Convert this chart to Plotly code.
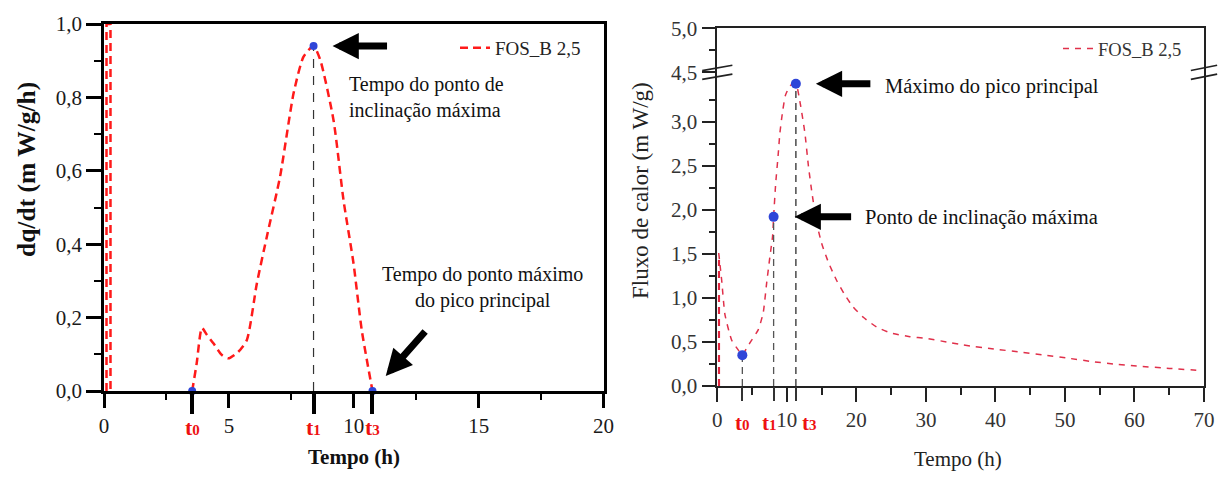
import plotly.graph_objects as go

SERIF = "Liberation Serif, Times New Roman, serif"

# ---------------- left panel: dq/dt ----------------
spike_t = [0.1, 0.1, 0.26, 0.26]
spike_dq = [0.0, 1.0, 1.0, 0.0]
deriv_t = [3.53, 3.71, 3.92, 4.12, 4.38, 4.72, 4.98, 5.38, 5.72, 6.12, 6.55,
           7.05, 7.59, 7.99, 8.39, 8.66, 9.19, 9.59, 9.99, 10.32, 10.75]
deriv_dq = [0.0, 0.075, 0.172, 0.153, 0.13, 0.098, 0.089, 0.107, 0.139, 0.293, 0.43,
            0.584, 0.811, 0.911, 0.94, 0.902, 0.738, 0.52, 0.348, 0.166, 0.0]
left_marks_t = [3.53, 8.39, 10.75]          # t0, t1, t3
left_marks_dq = [0.0, 0.94, 0.0]
left_xticks = [0, 5, 10, 15, 20]
left_xminor = [2.5, 7.5, 12.5, 17.5]
left_yticks = [0.0, 0.2, 0.4, 0.6, 0.8, 1.0]
left_yminor = [0.1, 0.3, 0.5, 0.7, 0.9]

# ---------------- right panel: heat flow ----------------
flux_spike_t = [0.24, 0.24]
flux_spike_q = [0.0, 1.43]
flux_t = [0.2, 0.63, 1.1, 2.07, 3.0, 3.6, 4.3, 4.94, 5.9, 6.6, 7.1, 7.57, 7.95, 8.1,
          8.4, 8.75, 9.0, 9.4, 9.8, 10.5, 11.3, 11.9, 12.6, 13.1, 13.6, 14.3, 15.0,
          16.0, 17.15, 18.3, 19.5, 21.0, 22.9, 25.0, 27.7, 30.0, 33.0, 35.35, 40.15,
          43.5, 46.8, 50.5, 54.0, 57.0, 60.3, 65.0, 69.8]
flux_q = [1.51, 1.2, 0.81, 0.52, 0.41, 0.35, 0.44, 0.52, 0.64, 0.83, 1.17, 1.47, 1.70, 1.92,
          2.3, 2.62, 2.87, 3.12, 3.3, 3.41, 3.43, 3.22, 2.87, 2.5, 2.2, 1.85, 1.62,
          1.4, 1.2, 1.04, 0.90, 0.78, 0.67, 0.60, 0.56, 0.54, 0.50, 0.466, 0.417,
          0.385, 0.352, 0.315, 0.276, 0.25, 0.227, 0.2, 0.174]
right_marks_t = [3.6, 8.1, 11.3]            # t0, t1, t3
right_marks_q = [0.35, 1.92, 3.43]
right_xticks = [0, 10, 20, 30, 40, 50, 60, 70]
right_xminor = [5, 15, 25, 35, 45, 55, 65]
right_yticks = [0.0, 0.5, 1.0, 1.5, 2.0, 2.5, 3.0, 4.5, 5.0]
right_yminor = [0.25, 0.75, 1.25, 1.75, 2.25, 2.75, 3.25, 4.75]
BREAK_FROM, BREAK_GAP = 3.5, 0.94          # axis break: values above 3.5 are shifted down


def on_broken_axis(v):
    return v - BREAK_GAP if v > BREAK_FROM else v


def comma(v, nd=1):
    return f"{v:.{nd}f}".replace(".", ",")


t_names = ["0", "1", "3"]


def t_label(d, size):
    return f"<b>t<span style='font-size:{size}px'>{d}</span></b>"


fig = go.Figure()

# left traces
fig.add_trace(go.Scatter(x=spike_t, y=spike_dq, mode="lines", showlegend=False,
                         line=dict(color="#ff1a1a", width=2.5, dash="8px,5px")))
fig.add_trace(go.Scatter(x=deriv_t, y=deriv_dq, mode="lines", name="FOS_B 2,5",
                         legend="legend",
                         line=dict(color="#ff1a1a", width=2.5, dash="8px,5px",
                                   shape="spline", smoothing=0.6)))
fig.add_trace(go.Scatter(x=[left_marks_t[1]] * 2, y=[0, left_marks_dq[1]], mode="lines",
                         showlegend=False,
                         line=dict(color="#333333", width=1.2, dash="9px,8px")))
fig.add_trace(go.Scatter(x=left_marks_t, y=left_marks_dq, mode="markers", showlegend=False,
                         xaxis="x3", yaxis="y", cliponaxis=False,
                         marker=dict(color="#2f45d8", size=8)))

# right traces
fig.add_trace(go.Scatter(x=flux_spike_t, y=flux_spike_q, mode="lines", showlegend=False,
                         xaxis="x2", yaxis="y2",
                         line=dict(color="#e0263f", width=2.2, dash="7px,5px")))
fig.add_trace(go.Scatter(x=flux_t, y=flux_q, mode="lines", name="FOS_B 2,5",
                         legend="legend2", xaxis="x2", yaxis="y2",
                         line=dict(color="#e0304a", width=1.5, dash="6px,6px",
                                   shape="spline", smoothing=0.5)))
for i, (tx, qy) in enumerate(zip(right_marks_t, right_marks_q)):
    fig.add_trace(go.Scatter(x=[tx, tx], y=[0, qy], mode="lines", showlegend=False,
                             xaxis="x2", yaxis="y2",
                             line=dict(color="#555555", width=1.6 if i == 2 else 1.3,
                                       dash="7px,5px")))
fig.add_trace(go.Scatter(x=right_marks_t, y=right_marks_q, mode="markers", showlegend=False,
                         xaxis="x4", yaxis="y2", cliponaxis=False,
                         marker=dict(color="#2f45d8", size=10)))

L_X = [104 / 1224, 603.5 / 1224]
L_Y = [86 / 477, 453 / 477]
R_X = [717.3 / 1224, 1204 / 1224]
R_Y = [91 / 477, 448.7 / 477]

lfont = dict(family=SERIF, size=21, color="#1a1a1a")
rfont = dict(family=SERIF, size=21, color="#333333")

common = dict(showgrid=False, zeroline=False, ticks="outside", tickmode="array")

fig.update_layout(
    width=1224, height=477, autosize=False,
    margin=dict(l=0, r=0, t=0, b=0, pad=0, autoexpand=False),
    paper_bgcolor="white", plot_bgcolor="white",
    font=dict(family=SERIF),
    xaxis=dict(domain=L_X, anchor="y", range=[0, 20], tickvals=left_xticks,
               ticktext=[str(v) for v in left_xticks], ticklen=14, tickwidth=2.5,
               tickcolor="black", showline=True, linewidth=2.5, linecolor="black",
               mirror=True, tickfont=lfont,
               minor=dict(tickmode="array", tickvals=left_xminor, ticks="outside",
                          ticklen=6, tickwidth=2, tickcolor="black"), **common),
    yaxis=dict(domain=L_Y, anchor="x", range=[0, 1], tickvals=left_yticks,
               ticktext=[comma(v) for v in left_yticks], ticklen=15, tickwidth=2.5,
               tickcolor="black", showline=True, linewidth=2.5, linecolor="black",
               mirror=True, tickfont=lfont,
               minor=dict(tickmode="array", tickvals=left_yminor, ticks="outside",
                          ticklen=7, tickwidth=2, tickcolor="black"), **common),
    xaxis3=dict(domain=L_X, overlaying="x", anchor="y", range=[0, 20],
                tickvals=left_marks_t, ticklen=22, tickwidth=3.5, tickcolor="black",
                showticklabels=False, showline=False, **common),
    xaxis2=dict(domain=R_X, anchor="y2", range=[0, 70], tickvals=right_xticks,
                ticktext=[str(v) for v in right_xticks], ticklen=14, tickwidth=1.6,
                tickcolor="#222", showline=True, linewidth=1.6, linecolor="#222",
                mirror=True, tickfont=rfont,
                minor=dict(tickmode="array", tickvals=right_xminor, ticks="outside",
                           ticklen=7, tickwidth=1.6, tickcolor="#222"), **common),
    yaxis2=dict(domain=R_Y, anchor="x2", range=[0, on_broken_axis(5.0)],
                tickvals=[on_broken_axis(v) for v in right_yticks],
                ticktext=[comma(v) for v in right_yticks], ticklen=14, tickwidth=1.6,
                tickcolor="#222", showline=True, linewidth=1.6, linecolor="#222",
                mirror=True, tickfont=rfont,
                minor=dict(tickmode="array",
                           tickvals=[on_broken_axis(v) for v in right_yminor],
                           ticks="outside", ticklen=7, tickwidth=1.6, tickcolor="#222"),
                **common),
    xaxis4=dict(domain=R_X, overlaying="x2", anchor="y2", range=[0, 70],
                tickvals=right_marks_t, ticklen=14, tickwidth=1.8, tickcolor="#333",
                showticklabels=False, showline=False, **common),
    legend=dict(x=455 / 1224, y=1 - 48 / 477, xanchor="left", yanchor="middle",
                bgcolor="rgba(0,0,0,0)", font=dict(family=SERIF, size=19, color="#222")),
    legend2=dict(x=1058 / 1224, y=1 - 49 / 477, xanchor="left", yanchor="middle",
                 bgcolor="rgba(0,0,0,0)", font=dict(family=SERIF, size=18.5, color="#333")),
)

ann = []


def paper_text(text, px, py, size, color, angle=0, xanchor="center", align="center"):
    return dict(text=text, x=px / 1224, y=1 - py / 477, xref="paper", yref="paper",
                xanchor=xanchor, yanchor="middle", align=align, showarrow=False,
                textangle=angle, font=dict(family=SERIF, size=size, color=color))


# axis titles
ann.append(paper_text("<b>Tempo (h)</b>", 354, 457, 21, "#111"))
ann.append(paper_text("<b>dq/dt (m W/g/h)</b>", 26, 170, 25.5, "#111", angle=-90))
ann.append(paper_text("Tempo (h)", 958, 459, 21, "#222"))
ann.append(paper_text("Fluxo de calor (m W/g)", 640, 191, 23, "#222", angle=-90))

# t labels under the axes
for tx, d in zip(left_marks_t, t_names):
    ann.append(dict(text=t_label(d, 15), x=tx, y=0, xref="x", yref="y", yanchor="top",
                    xanchor="center", yshift=-22, showarrow=False,
                    font=dict(family=SERIF, size=22, color="#ee1111")))
for tx, d, dx in zip(right_marks_t, t_names, [0, -4, 14]):
    ann.append(dict(text=t_label(d, 15), x=tx, y=0, xref="x2", yref="y2", yanchor="top",
                    xanchor="center", yshift=-23, xshift=dx, showarrow=False,
                    font=dict(family=SERIF, size=21, color="#ee1111")))

# descriptive texts
ann.append(paper_text("Tempo do ponto de<br>inclinação máxima", 347, 97.5, 20, "#111",
                      xanchor="left", align="left"))
ann.append(paper_text("Tempo do ponto máximo<br>do pico principal", 482.5, 287.5, 20, "#111"))
ann.append(paper_text("Máximo do pico principal", 883, 86, 20.5, "#111", xanchor="left"))
ann.append(paper_text("Ponto de inclinação máxima", 863, 217, 20.5, "#111", xanchor="left"))

# arrows
arrow = dict(text="", showarrow=True, arrowhead=2, arrowwidth=7, arrowsize=0.75,
             arrowcolor="black")
ann.append(dict(arrow, x=left_marks_t[1], y=left_marks_dq[1], xref="x", yref="y",
                ax=75, ay=0, standoff=19))
ann.append(dict(arrow, x=left_marks_t[2], y=left_marks_dq[2], xref="x", yref="y",
                ax=54, ay=-61, standoff=20))
ann.append(dict(arrow, x=right_marks_t[2], y=right_marks_q[2], xref="x2", yref="y2",
                ax=76, ay=0, standoff=20))
ann.append(dict(arrow, x=right_marks_t[1], y=right_marks_q[1], xref="x2", yref="y2",
                ax=79, ay=0, standoff=21))
fig.update_layout(annotations=ann)

# axis-break marks on the right panel
yb = on_broken_axis(4.5)
shapes = []
for xc, half in [(0.0, 0.031), (1.0, 0.027)]:
    for off in (0.05, -0.05):
        shapes.append(dict(type="line", xref="x2 domain", yref="y2",
                           x0=xc - half, x1=xc + half, y0=yb + off - 0.03,
                           y1=yb + off + 0.03, line=dict(color="#222", width=1.6)))
fig.update_layout(shapes=shapes)

fig.write_html("out.html")
